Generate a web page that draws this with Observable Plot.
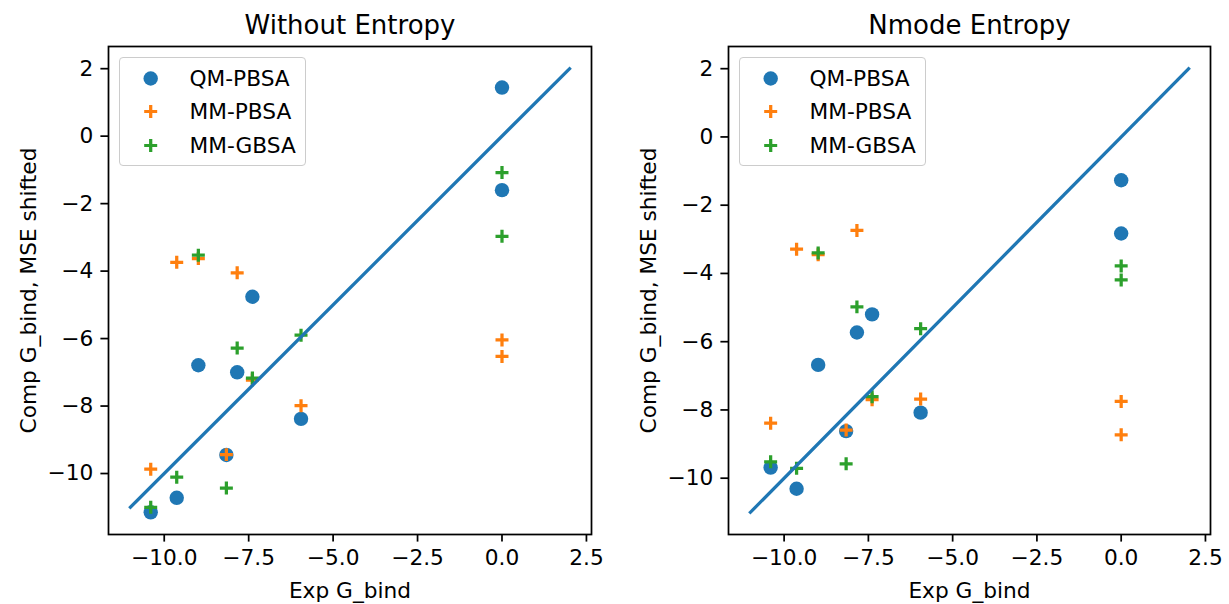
<!DOCTYPE html>
<html><head><meta charset="utf-8">
<script src="https://cdn.jsdelivr.net/npm/d3@7"></script>
<script src="https://cdn.jsdelivr.net/npm/@observablehq/plot@0.6"></script>
<style>
html,body{margin:0;padding:0;background:#fff;}
#fig{display:flex;width:1229px;height:604px;font-family:"DejaVu Sans";}
.panel{position:relative;}
.legend{position:absolute;border:1px solid #cccccc;border-radius:4px;background:rgba(255,255,255,0.8);padding:8.5px 9px 8.5px 8.7px;font-size:21.7px;color:#000;font-family:"DejaVu Sans";}
.row{display:flex;align-items:center;height:23px;white-space:nowrap;}
.row + .row{margin-top:10.6px;}
.row svg{width:43.4px;height:23px;margin-right:17.4px;flex:none;}
</style></head><body><div id="fig"></div>
<script>
// Experimental binding free energies (shared x)
const expG = [-10.4, -9.63, -8.99, -8.16, -7.84, -7.39, -5.95, 0, 0];

// Without Entropy
const woQM = [-11.15, -10.72, -6.79, -9.45, -7.0, -4.76, -8.38, 1.44, -1.6];
const woPB = [-9.87, -3.74, -3.63, -9.44, -4.05, -7.23, -7.99, -6.04, -6.53];
const woGB = [-11.0, -10.11, -3.53, -10.43, -6.28, -7.17, -5.9, -1.08, -2.97];

// Nmode Entropy
const nmQM = [-9.69, -10.31, -6.68, -8.62, -5.73, -5.2, -8.08, -1.27, -2.83];
const nmPB = [-8.39, -3.29, -3.45, -8.59, -2.74, -7.70, -7.68, -7.75, -8.73];
const nmGB = [-9.52, -9.71, -3.40, -9.58, -4.98, -7.61, -5.62, -3.78, -4.19];

// identity line
const lineX = [-11, 2];
const lineY = [-11, 2];

const seriesNames = ["QM-PBSA", "MM-PBSA", "MM-GBSA"];
const colors = ["#1f77b4", "#ff7f0e", "#2ca02c"];
const xTicks = [-10, -7.5, -5, -2.5, 0, 2.5];
const yTicks = [-10, -8, -6, -4, -2, 0, 2];
const titles = ["Without Entropy", "Nmode Entropy"];
const xLabel = "Exp G_bind";
const yLabel = "Comp G_bind, MSE shifted";

const pad = ([a, b]) => { const m = (b - a) * 0.05; return [a - m, b + m]; };
const fmtX = d => d.toFixed(1).replace("-", "\u2212");
const fmtY = d => String(d).replace("-", "\u2212");
const MT = 46;

function makePanel(title, qm, pb, gb, width, marginLeft, marginRight) {
  const rows = vals => expG.map((x, i) => ({x, y: vals[i]}));
  const allY = [...qm, ...pb, ...gb, ...lineY];
  const allX = [...expG, ...lineX];
  const lineData = lineX.map((x, i) => ({x, y: lineY[i]}));
  const svg = Plot.plot({
    width, height: 604, marginLeft, marginRight, marginTop: MT, marginBottom: 70,
    style: {fontFamily: "DejaVu Sans", fontSize: "21.7px", color: "black", background: "white", overflow: "visible"},
    x: {domain: pad(d3.extent(allX))},
    y: {domain: pad(d3.extent(allY))},
    marks: [
      Plot.axisX({ticks: xTicks, tickFormat: fmtX, tickSize: 7.6, tickPadding: 7.6, strokeWidth: 1.74, fontSize: 21.7, label: null}),
      Plot.axisY({ticks: yTicks, tickFormat: fmtY, tickSize: 7.6, tickPadding: 7.6, strokeWidth: 1.74, fontSize: 21.7, label: null}),
      Plot.dot(rows(qm), {x: "x", y: "y", r: 7.2, fill: colors[0], stroke: null}),
      Plot.dot(rows(pb), {x: "x", y: "y", symbol: "plus", r: 4.26, stroke: colors[1], strokeWidth: 3.25, fill: "none"}),
      Plot.dot(rows(gb), {x: "x", y: "y", symbol: "plus", r: 4.26, stroke: colors[2], strokeWidth: 3.25, fill: "none"}),
      Plot.line(lineData, {x: "x", y: "y", stroke: colors[0], strokeWidth: 3.25, strokeLinecap: "square"}),
      Plot.frame({stroke: "black", strokeWidth: 1.74}),
      Plot.text([title], {text: d => d, frameAnchor: "top", lineAnchor: "bottom", dy: -13, fontSize: 26, fill: "black"}),
      Plot.text([xLabel], {text: d => d, frameAnchor: "bottom", lineAnchor: "bottom", dy: 63, fontSize: 21.7, fill: "black"}),
      Plot.text([yLabel], {text: d => d, frameAnchor: "left", rotate: -90, lineAnchor: "bottom", textAnchor: "middle", dx: -73, fontSize: 21.7, fill: "black"})
    ]
  });
  const div = document.createElement("div");
  div.className = "panel";
  div.style.width = width + "px";
  div.appendChild(svg);
  const leg = document.createElement("div");
  leg.className = "legend";
  leg.style.left = (marginLeft + 11) + "px";
  leg.style.top = (MT + 11) + "px";
  seriesNames.forEach((name, i) => {
    const row = document.createElement("div");
    row.className = "row";
    const sym = i === 0
      ? `<circle cx="21.7" cy="11.5" r="7.2" fill="${colors[0]}"/>`
      : `<path d="M15.2 11.5H28.2M21.7 5V18" stroke="${colors[i]}" stroke-width="3.25" fill="none"/>`;
    row.innerHTML = `<svg viewBox="0 0 43.4 23">${sym}</svg><span>${name}</span>`;
    leg.appendChild(row);
  });
  div.appendChild(leg);
  return div;
}

const fig = document.getElementById("fig");
fig.appendChild(makePanel(titles[0], woQM, woPB, woGB, 614, 108, 23));
fig.appendChild(makePanel(titles[1], nmQM, nmPB, nmGB, 615, 114, 19));
</script>
</body></html>
